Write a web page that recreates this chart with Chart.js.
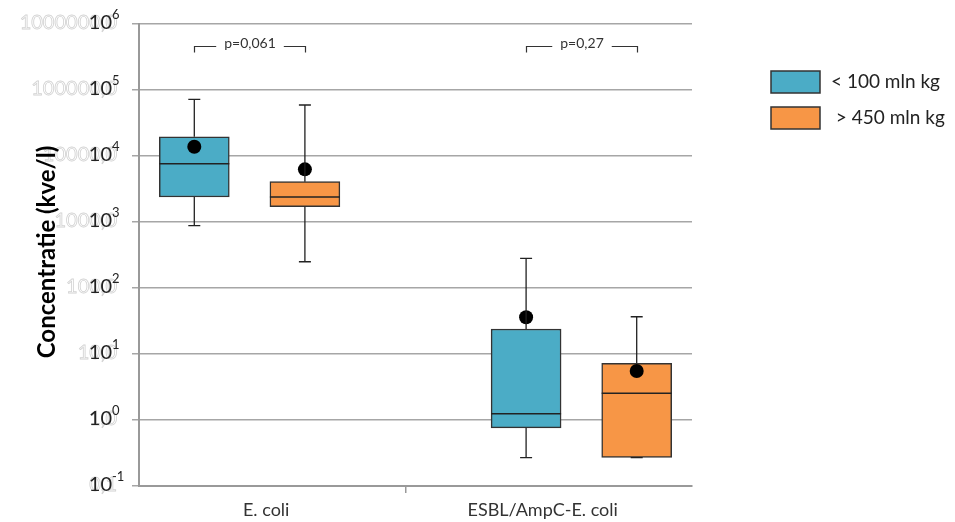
<!DOCTYPE html>
<html>
<head>
<meta charset="utf-8">
<script src="https://cdn.jsdelivr.net/npm/chart.js@4.4.1/dist/chart.umd.min.js"></script>
<style>
  html, body { margin: 0; padding: 0; background: #fff; }
  #wrap { width: 955px; height: 522px; position: relative; }
</style>
</head>
<body>
<div id="wrap"><canvas id="boxChart"></canvas></div>
<script>
// categories and series
const categories = ['E. coli', 'ESBL/AmpC-E. coli'];
const seriesNames = ['< 100 mln kg', ' > 450 mln kg'];
const pValues = ['p=0,061', 'p=0,27'];
const yTicks = [0.1, 1, 10, 100, 1000, 10000, 100000, 1000000];

// < 100 mln kg (one value per category)
const lowMin = [880, 0.27];
const lowQ1 = [2390, 0.76];
const lowMedian = [7640, 1.24];
const lowQ3 = [19600, 23.9];
const lowMax = [72300, 282];
const lowMean = [13800, 36];

// > 450 mln kg
const highMin = [250, 0.27];
const highQ1 = [1710, 0.27];
const highMedian = [2390, 2.54];
const highQ3 = [4080, 7.23];
const highMax = [59300, 36.7];
const highMean = [6280, 5.52];

// layout on the x axis (0..2, one unit per category)
const boxPos = [[0.2, 1.4], [0.6, 1.8]];
const labelPos = [0.46, 1.46];
const separatorPos = 0.966;

const colors = ['#4BACC6', '#F79646'];
const FONT = 'Lato, "Liberation Sans", sans-serif';

const stats = [
  { min: lowMin, median: lowMedian, max: lowMax },
  { min: highMin, median: highMedian, max: highMax }
];

function boxData(s, q1, q3) {
  return categories.map((c, i) => ({ x: boxPos[s][i], y: [q1[i], q3[i]] }));
}
function meanData(s, mean) {
  return categories.map((c, i) => ({ x: boxPos[s][i], y: mean[i] }));
}

const boxExtras = {
  id: 'boxExtras',
  beforeDraw(chart) {
    // faint leftover labels behind the tick labels
    const ctx = chart.ctx, y = chart.scales.y;
    ctx.save();
    ctx.font = '20px ' + FONT;
    ctx.textAlign = 'right';
    ctx.textBaseline = 'middle';
    ctx.strokeStyle = '#d2d2d2';
    ctx.lineWidth = 0.8;
    yTicks.forEach(v => {
      ctx.strokeText(v.toFixed(1).replace('.', ','), 117, y.getPixelForValue(v) - 1);
    });
    ctx.restore();
  },
  afterDatasetsDraw(chart) {
    const ctx = chart.ctx, y = chart.scales.y;
    ctx.save();
    ctx.strokeStyle = '#222';
    [0, 1].forEach(s => {
      const meta = chart.getDatasetMeta(s);
      meta.data.forEach((bar, i) => {
        const x = bar.x, half = bar.width / 2;
        const top = Math.min(bar.y, bar.base), bottom = Math.max(bar.y, bar.base);
        const yMax = y.getPixelForValue(stats[s].max[i]);
        const yMin = y.getPixelForValue(stats[s].min[i]);
        const yMed = y.getPixelForValue(stats[s].median[i]);
        ctx.lineWidth = 1.3;
        ctx.beginPath();
        ctx.moveTo(x, top); ctx.lineTo(x, yMax);
        ctx.moveTo(x - 6, yMax); ctx.lineTo(x + 6, yMax);
        ctx.moveTo(x, bottom); ctx.lineTo(x, yMin);
        ctx.moveTo(x - 6, yMin); ctx.lineTo(x + 6, yMin);
        ctx.stroke();
        ctx.lineWidth = 1.5;
        ctx.beginPath();
        ctx.moveTo(x - half, yMed); ctx.lineTo(x + half, yMed);
        ctx.stroke();
      });
    });
    ctx.restore();
  },
  afterDraw(chart) {
    const ctx = chart.ctx, y = chart.scales.y, xs = chart.scales.x;
    ctx.save();
    // y tick labels with exponent
    ctx.fillStyle = '#222';
    ctx.textBaseline = 'middle';
    yTicks.forEach(v => {
      const py = y.getPixelForValue(v);
      ctx.font = '20px ' + FONT;
      ctx.textAlign = 'right';
      ctx.fillText('10', 112, py - 1);
      ctx.font = '13px ' + FONT;
      ctx.textAlign = 'left';
      ctx.fillText(String(Math.round(Math.log10(v))), 112, py - 9);
    });
    // y title
    ctx.save();
    ctx.translate(47, 252);
    ctx.rotate(-Math.PI / 2);
    ctx.font = 'bold 24px ' + FONT;
    ctx.textAlign = 'center';
    ctx.fillStyle = '#000';
    ctx.fillText('Concentratie (kve/l)', 0, 0);
    ctx.restore();
    // p-value brackets
    ctx.font = '14px ' + FONT;
    ctx.textAlign = 'center';
    ctx.strokeStyle = '#333';
    ctx.lineWidth = 1.2;
    categories.forEach((c, i) => {
      const x1 = Math.round(xs.getPixelForValue(boxPos[0][i])) + 0.5;
      const x2 = Math.round(xs.getPixelForValue(boxPos[1][i])) + 0.5;
      const mid = (x1 + x2) / 2;
      const tw = ctx.measureText(pValues[i]).width / 2 + 8;
      ctx.fillStyle = '#333';
      ctx.fillText(pValues[i], mid, 43);
      ctx.beginPath();
      ctx.moveTo(x1, 52.5); ctx.lineTo(x1, 46.5); ctx.lineTo(mid - tw, 46.5);
      ctx.moveTo(mid + tw, 46.5); ctx.lineTo(x2, 46.5); ctx.lineTo(x2, 52.5);
      ctx.stroke();
    });
    // legend
    const legendY = [71, 107];
    seriesNames.forEach((name, s) => {
      ctx.fillStyle = colors[s];
      ctx.fillRect(771, legendY[s], 49, 22);
      ctx.strokeStyle = '#333';
      ctx.lineWidth = 1.5;
      ctx.strokeRect(771, legendY[s], 49, 22);
      ctx.fillStyle = '#222';
      ctx.font = '19px ' + FONT;
      ctx.textAlign = 'left';
      ctx.fillText(name, 831, legendY[s] + 11);
    });
    ctx.restore();
  }
};

new Chart(document.getElementById('boxChart'), {
  type: 'bar',
  data: {
    datasets: [
      {
        label: seriesNames[0],
        data: boxData(0, lowQ1, lowQ3),
        backgroundColor: colors[0],
        borderColor: '#333',
        borderWidth: 1.5,
        borderSkipped: false,
        barThickness: 70,
        grouped: false,
        order: 2
      },
      {
        label: seriesNames[1],
        data: boxData(1, highQ1, highQ3),
        backgroundColor: colors[1],
        borderColor: '#333',
        borderWidth: 1.5,
        borderSkipped: false,
        barThickness: 70,
        grouped: false,
        order: 2
      },
      {
        type: 'scatter',
        label: 'mean low',
        data: meanData(0, lowMean),
        pointRadius: 7,
        backgroundColor: '#000',
        borderWidth: 0,
        order: 1
      },
      {
        type: 'scatter',
        label: 'mean high',
        data: meanData(1, highMean),
        pointRadius: 7,
        backgroundColor: '#000',
        borderWidth: 0,
        order: 1
      }
    ]
  },
  options: {
    responsive: true,
    maintainAspectRatio: false,
    animation: false,
    layout: { padding: { left: 132, right: 263, top: 24, bottom: 0 } },
    plugins: {
      legend: { display: false },
      tooltip: { enabled: false }
    },
    scales: {
      x: {
        type: 'linear',
        min: 0,
        max: 2,
        offset: false,
        afterBuildTicks: axis => {
          axis.ticks = [labelPos[0], separatorPos, labelPos[1]].map(v => ({ value: v }));
        },
        afterFit: axis => { axis.height = 36; },
        grid: {
          offset: false,
          drawOnChartArea: false,
          tickLength: 7,
          lineWidth: 1.5,
          color: ctx => (ctx.tick && ctx.tick.value === separatorPos) ? '#999' : 'rgba(0,0,0,0)'
        },
        border: { color: '#999', width: 2 },
        ticks: {
          autoSkip: false,
          maxRotation: 0,
          padding: 6,
          color: '#333',
          font: { family: FONT, size: 18 },
          callback: v => {
            const i = labelPos.indexOf(v);
            return i >= 0 ? categories[i] : '';
          }
        }
      },
      y: {
        type: 'logarithmic',
        min: 0.1,
        max: 1000000,
        afterBuildTicks: axis => {
          axis.ticks = yTicks.map(v => ({ value: v }));
        },
        afterFit: axis => { axis.width = 7; },
        grid: { color: '#a6a6a6', lineWidth: 1.5, tickLength: 7 },
        border: { color: '#999', width: 2 },
        ticks: { display: false }
      }
    }
  },
  plugins: [boxExtras]
});
</script>
</body>
</html>
